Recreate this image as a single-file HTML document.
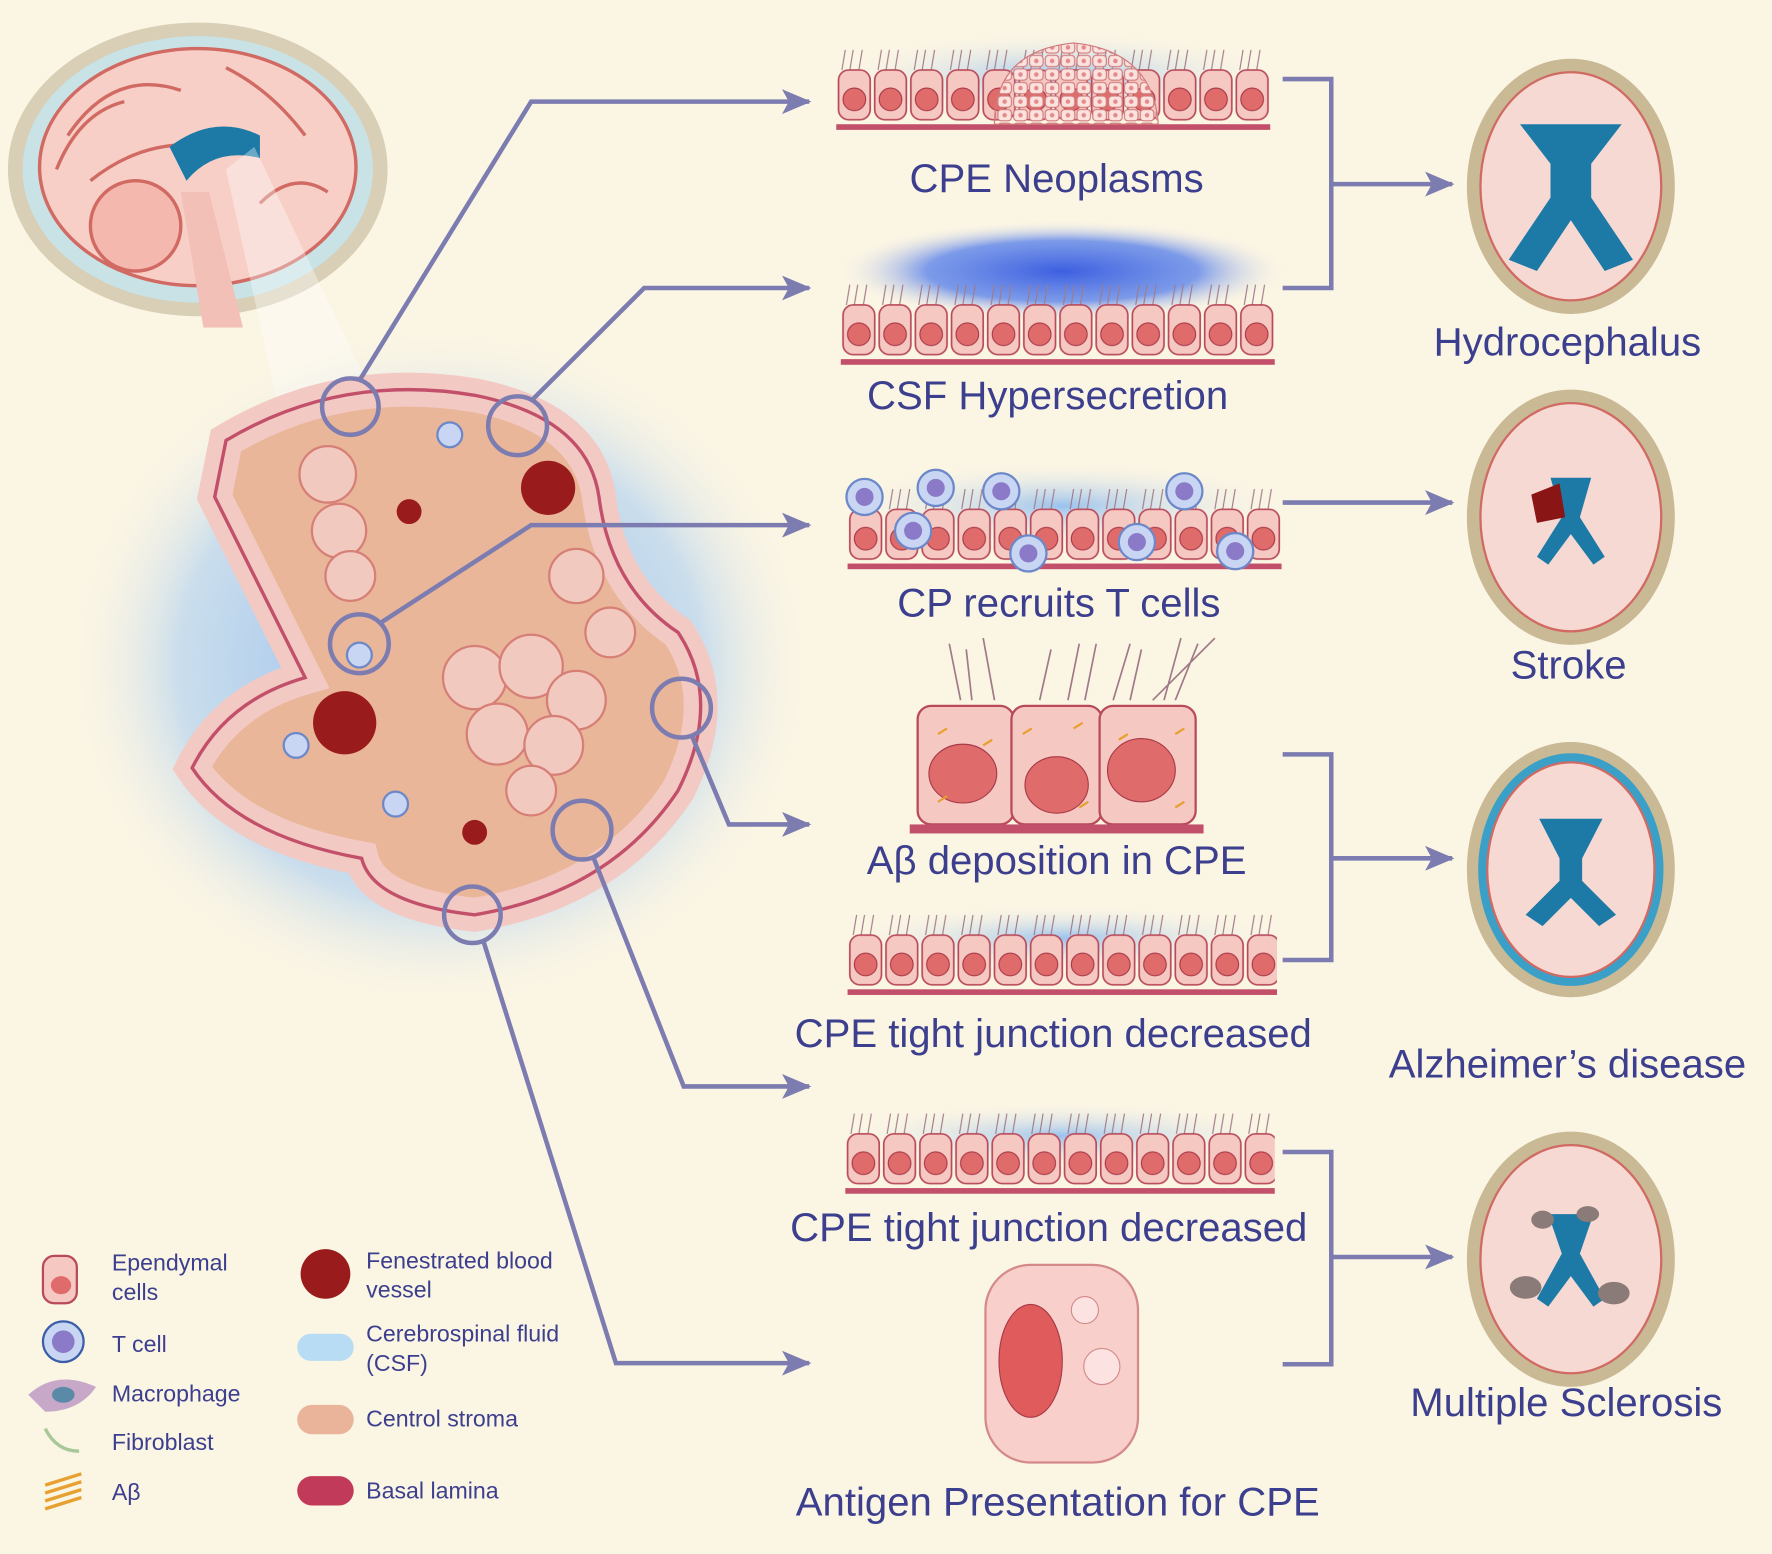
<!DOCTYPE html>
<html><head><meta charset="utf-8"><style>
html,body{margin:0;padding:0;background:#fbf5e4}
svg{display:block}
text{font-family:"Liberation Sans",sans-serif;fill:#3c3f8e}
</style></head><body>
<svg width="1772" height="1554" viewBox="0 0 1568 1376" preserveAspectRatio="none" xmlns="http://www.w3.org/2000/svg">
<defs>
<radialGradient id="glow" cx="50%" cy="50%" r="50%">
<stop offset="0" stop-color="#7fb0ee" stop-opacity="0.9"/>
<stop offset="0.7" stop-color="#a8cdf2" stop-opacity="0.6"/>
<stop offset="1" stop-color="#fbf5e4" stop-opacity="0"/>
</radialGradient>
<radialGradient id="topglow" cx="50%" cy="60%" r="50%">
<stop offset="0" stop-color="#8fbcef" stop-opacity="0.9"/>
<stop offset="1" stop-color="#fbf5e4" stop-opacity="0"/>
</radialGradient>
<radialGradient id="deepglow" cx="50%" cy="50%" r="50%">
<stop offset="0" stop-color="#3d5fe0"/>
<stop offset="0.6" stop-color="#5d84ea" stop-opacity="0.8"/>
<stop offset="1" stop-color="#fbf5e4" stop-opacity="0"/>
</radialGradient>
<pattern id="cells" x="0" y="0" width="32" height="70" patternUnits="userSpaceOnUse">
<line x1="8" y1="0" x2="5" y2="18" stroke="#a07a88" stroke-width="1"/>
<line x1="15" y1="0" x2="12" y2="18" stroke="#a07a88" stroke-width="1"/>
<line x1="23" y1="0" x2="20" y2="18" stroke="#a07a88" stroke-width="1"/>
<rect x="2" y="18" width="28" height="44" rx="9" fill="#f6c8c2" stroke="#b84a5a" stroke-width="1.5"/>
<ellipse cx="16" cy="44" rx="10" ry="10" fill="#e06b6b" stroke="#a83a48"/>
</pattern>
<pattern id="small" x="0" y="0" width="14" height="12" patternUnits="userSpaceOnUse">
<rect x="1" y="1" width="12" height="10" rx="3" fill="#fbe2de" stroke="#d07a7a" stroke-width="1"/>
<circle cx="7" cy="6" r="2" fill="#e58a8a"/>
</pattern>
<marker id="ar" markerWidth="26" markerHeight="22" refX="24" refY="11" orient="auto" markerUnits="userSpaceOnUse">
<path d="M0,0 L26,11 L0,22 L6,11 Z" fill="#7c7cb0"/>
</marker>
</defs>
<rect width="1568" height="1376" fill="#fbf5e4"/>

<!-- Brain top-left -->
<ellipse cx="175" cy="150" rx="168" ry="130" fill="#d8cfb6"/>
<ellipse cx="175" cy="150" rx="155" ry="118" fill="#c8e2e6"/>
<ellipse cx="175" cy="148" rx="140" ry="105" fill="#f7cfc7" stroke="#d06a62" stroke-width="3"/>
<path d="M60,120 Q100,60 160,80 M80,160 Q130,120 190,130 M200,60 Q240,80 270,120 M90,200 Q120,180 150,200 M50,150 Q70,100 110,90 M230,180 Q260,150 290,170" stroke="#d06a62" stroke-width="3" fill="none"/>
<circle cx="120" cy="200" r="40" fill="#f4b8ae" stroke="#d06a62" stroke-width="3"/>
<path d="M150,130 Q190,100 230,120 L230,140 Q190,130 165,160 Z" fill="#1d7aa6"/>
<path d="M160,170 L185,170 L215,290 L180,290 Z" fill="#f2c0b6"/>
<polygon points="200,150 225,130 430,560 290,560" fill="#ffffff" opacity="0.35"/>

<!-- CP blob -->
<ellipse cx="390" cy="590" rx="330" ry="300" fill="url(#glow)"/>
<path d="M200,390 Q300,330 420,350 Q520,370 530,440 Q540,520 600,560 Q640,620 600,700 Q540,790 420,810 Q330,800 320,760 Q210,740 170,680 Q200,620 270,600 Q240,540 190,440 Z" fill="#e9b69a" stroke="#f3c9c3" stroke-width="30"/>
<path d="M200,390 Q300,330 420,350 Q520,370 530,440 Q540,520 600,560 Q640,620 600,700 Q540,790 420,810 Q330,800 320,760 Q210,740 170,680 Q200,620 270,600 Q240,540 190,440 Z" fill="none" stroke="#c2506a" stroke-width="3"/>
<g fill="#f2c9bf" stroke="#d67f76" stroke-width="2">
<circle cx="290" cy="420" r="25"/><circle cx="300" cy="470" r="24"/><circle cx="310" cy="510" r="22"/>
<circle cx="420" cy="600" r="28"/><circle cx="470" cy="590" r="28"/><circle cx="510" cy="620" r="26"/>
<circle cx="440" cy="650" r="27"/><circle cx="490" cy="660" r="26"/><circle cx="510" cy="510" r="24"/>
<circle cx="470" cy="700" r="22"/><circle cx="540" cy="560" r="22"/>
</g>
<g fill="#9a1b1b"><circle cx="485" cy="432" r="24"/><circle cx="305" cy="640" r="28"/><circle cx="362" cy="453" r="11"/><circle cx="420" cy="737" r="11"/></g>
<g fill="#c8d6f4" stroke="#6d88c8" stroke-width="2"><circle cx="398" cy="385" r="11"/><circle cx="318" cy="580" r="11"/><circle cx="262" cy="660" r="11"/><circle cx="350" cy="712" r="11"/></g>

<!-- circles & connectors -->
<g fill="none" stroke="#7c7cb0" stroke-width="4">
<circle cx="310" cy="360" r="25"/><circle cx="458" cy="377" r="26"/><circle cx="318" cy="570" r="26"/>
<circle cx="603" cy="627" r="26"/><circle cx="515" cy="735" r="26"/><circle cx="418" cy="810" r="25"/>
<polyline points="318,337 470,90 716,90" marker-end="url(#ar)"/>
<polyline points="470,355 570,255 716,255" marker-end="url(#ar)"/>
<polyline points="336,552 470,465 716,465" marker-end="url(#ar)"/>
<polyline points="612,651 645,730 716,730" marker-end="url(#ar)"/>
<polyline points="525,759 605,962 716,962" marker-end="url(#ar)"/>
<polyline points="428,834 545,1207 716,1207" marker-end="url(#ar)"/>
<polyline points="1135,70 1178,70 1178,255 1135,255"/>
<polyline points="1178,163 1285,163" marker-end="url(#ar)"/>
<polyline points="1135,445 1285,445" marker-end="url(#ar)"/>
<polyline points="1135,668 1178,668 1178,850 1135,850"/>
<polyline points="1178,760 1285,760" marker-end="url(#ar)"/>
<polyline points="1135,1020 1178,1020 1178,1208 1135,1208"/>
<polyline points="1178,1113 1285,1113" marker-end="url(#ar)"/>
</g>

<!-- strips -->
<ellipse cx="935" cy="60" rx="200" ry="40" fill="url(#topglow)"/>
<g transform="translate(740,44)"><rect width="384" height="68" fill="url(#cells)"/><rect y="66" width="384" height="5" fill="#c2506a"/></g>
<path d="M880,110 Q880,45 950,38 Q1020,45 1025,110 Z" fill="url(#small)" stroke="#d07a7a"/>

<ellipse cx="940" cy="240" rx="200" ry="45" fill="url(#deepglow)"/>
<g transform="translate(744,252)"><rect width="384" height="68" fill="url(#cells)"/><rect y="66" width="384" height="5" fill="#c2506a"/></g>

<ellipse cx="940" cy="440" rx="200" ry="40" fill="url(#topglow)"/>
<g transform="translate(750,433)"><rect width="384" height="68" fill="url(#cells)"/><rect y="66" width="384" height="5" fill="#c2506a"/></g>
<g fill="#c8d6f4" stroke="#6d88c8" stroke-width="2">
<circle cx="765" cy="440" r="16"/><circle cx="828" cy="432" r="16"/><circle cx="886" cy="435" r="16"/><circle cx="1048" cy="435" r="16"/>
<circle cx="808" cy="470" r="16"/><circle cx="910" cy="490" r="16"/><circle cx="1006" cy="480" r="16"/><circle cx="1093" cy="488" r="16"/></g>
<g fill="#8a7ac8"><circle cx="765" cy="440" r="8"/><circle cx="828" cy="432" r="8"/><circle cx="886" cy="435" r="8"/><circle cx="1048" cy="435" r="8"/>
<circle cx="808" cy="470" r="8"/><circle cx="910" cy="490" r="8"/><circle cx="1006" cy="480" r="8"/><circle cx="1093" cy="488" r="8"/></g>

<g stroke="#a07a88" stroke-width="1.5" fill="none"><path d="M850,620 L840,570 M880,620 L870,565 M920,620 L930,575 M960,620 L970,570 M1000,620 L1010,575 M1040,620 L1060,570 M1020,620 L1075,565 M860,620 L855,575 M945,620 L955,570 M985,620 L1000,570 M1030,620 L1045,565"/></g>
<g fill="#f6c8c2" stroke="#b84a5a" stroke-width="2">
<rect x="812" y="625" width="85" height="105" rx="12"/><rect x="895" y="625" width="80" height="105" rx="12"/><rect x="973" y="625" width="85" height="105" rx="12"/></g>
<g fill="#e06b6b" stroke="#a83a48"><ellipse cx="852" cy="685" rx="30" ry="26"/><ellipse cx="935" cy="695" rx="28" ry="25"/><ellipse cx="1010" cy="682" rx="30" ry="28"/></g>
<g stroke="#e8a030" stroke-width="2"><path d="M830,650 l8,-5 M870,660 l8,-5 M905,650 l8,-5 M950,645 l8,-5 M990,655 l8,-5 M1040,650 l8,-5 M830,710 l8,-5 M955,715 l8,-5 M1040,715 l8,-5"/></g>
<rect x="805" y="730" width="260" height="8" fill="#c2506a"/>

<ellipse cx="940" cy="825" rx="195" ry="30" fill="url(#topglow)"/>
<g transform="translate(750,810)"><rect width="380" height="68" fill="url(#cells)"/><rect y="66" width="380" height="5" fill="#c2506a"/></g>

<ellipse cx="940" cy="1000" rx="195" ry="30" fill="url(#topglow)"/>
<g transform="translate(748,986)"><rect width="380" height="68" fill="url(#cells)"/><rect y="66" width="380" height="5" fill="#c2506a"/></g>

<rect x="872" y="1120" width="135" height="175" rx="40" fill="#f8cfcb" stroke="#d48a88" stroke-width="2"/>
<ellipse cx="912" cy="1205" rx="28" ry="50" fill="#e05b5b" stroke="#a83a48"/>
<circle cx="975" cy="1210" r="16" fill="#fde2e2" stroke="#d48a88"/>
<circle cx="960" cy="1160" r="12" fill="#fde2e2" stroke="#d48a88"/>

<!-- right brains -->
<g>
<g transform="translate(1390,165)"><ellipse rx="92" ry="113" fill="#c9b995"/><ellipse rx="80" ry="101" fill="#f7d9d4" stroke="#d06a62" stroke-width="2"/><path d="M-45,-55 L45,-55 L18,-20 L18,10 L55,65 L30,75 L0,30 L-30,75 L-55,65 L-18,10 L-18,-20 Z" fill="#1d7aa6"/></g>
<g transform="translate(1390,458)"><ellipse rx="92" ry="113" fill="#c9b995"/><ellipse rx="80" ry="101" fill="#f7d9d4" stroke="#d06a62" stroke-width="2"/><path d="M-18,-35 L18,-35 L8,0 L30,35 L20,42 L0,15 L-20,42 L-30,35 L-8,0 Z" fill="#1d7aa6"/><path d="M-35,-20 L-10,-30 L-5,0 L-30,5 Z" fill="#8a1515"/></g>
<g transform="translate(1390,770)"><ellipse rx="92" ry="113" fill="#c9b995"/><ellipse rx="82" ry="103" fill="#3aa0c8"/><ellipse rx="74" ry="95" fill="#f7d9d4" stroke="#d06a62" stroke-width="2"/><path d="M-28,-45 L28,-45 L10,-10 L10,10 L40,40 L25,50 L0,25 L-25,50 L-40,40 L-10,10 L-10,-10 Z" fill="#1d7aa6"/></g>
<g transform="translate(1390,1115)"><ellipse rx="92" ry="113" fill="#c9b995"/><ellipse rx="80" ry="101" fill="#f7d9d4" stroke="#d06a62" stroke-width="2"/><path d="M-20,-40 L20,-40 L8,-5 L30,35 L20,42 L0,15 L-20,42 L-30,35 L-8,-5 Z" fill="#1d7aa6"/><ellipse cx="-40" cy="25" rx="14" ry="10" fill="#8a7b78"/><ellipse cx="38" cy="30" rx="14" ry="10" fill="#8a7b78"/><ellipse cx="-25" cy="-35" rx="10" ry="8" fill="#8a7b78"/><ellipse cx="15" cy="-40" rx="10" ry="7" fill="#8a7b78"/></g>
</g>

<!-- labels -->
<g font-size="35.5" text-anchor="middle">
<text x="935" y="170">CPE Neoplasms</text>
<text x="927" y="362">CSF Hypersecretion</text>
<text x="937" y="546">CP recruits T cells</text>
<text x="935" y="774">Aβ deposition in CPE</text>
<text x="932" y="927">CPE tight junction decreased</text>
<text x="928" y="1099">CPE tight junction decreased</text>
<text x="936" y="1342">Antigen Presentation for CPE</text>
<text x="1387" y="315">Hydrocephalus</text>
<text x="1388" y="601">Stroke</text>
<text x="1387" y="954">Alzheimer’s disease</text>
<text x="1386" y="1254">Multiple Sclerosis</text>
</g>

<!-- legend -->
<g font-size="20.5">
<text x="99" y="1125">Ependymal</text><text x="99" y="1151">cells</text>
<text x="99" y="1197">T cell</text>
<text x="99" y="1241">Macrophage</text>
<text x="99" y="1284">Fibroblast</text>
<text x="99" y="1328">Aβ</text>
<text x="324" y="1123">Fenestrated blood</text><text x="324" y="1149">vessel</text>
<text x="324" y="1188">Cerebrospinal fluid</text><text x="324" y="1214">(CSF)</text>
<text x="324" y="1263">Centrol stroma</text>
<text x="324" y="1327">Basal lamina</text>
</g>
<rect x="38" y="1112" width="30" height="42" rx="10" fill="#f6c8c2" stroke="#b84a5a" stroke-width="2"/>
<ellipse cx="54" cy="1138" rx="9" ry="8" fill="#e06b6b"/>
<circle cx="56" cy="1188" r="18" fill="#c8d6f4" stroke="#3b5ea8" stroke-width="2"/><circle cx="56" cy="1188" r="10" fill="#8a7ac8"/>
<path d="M25,1235 Q50,1212 85,1228 Q70,1250 40,1250 Z" fill="#c7a8c8"/><ellipse cx="56" cy="1235" rx="10" ry="7" fill="#5a8aa8"/>
<path d="M40,1265 Q50,1285 70,1285" stroke="#a8c898" stroke-width="3" fill="none"/>
<path d="M40,1315 L72,1305 M40,1322 L72,1312 M40,1329 L72,1319 M40,1336 L72,1326" stroke="#e8a030" stroke-width="3"/>
<circle cx="288" cy="1128" r="22" fill="#9a1b1b"/>
<rect x="263" y="1181" width="50" height="24" rx="12" fill="#b8dcf4"/>
<rect x="263" y="1244" width="50" height="26" rx="13" fill="#eab49a"/>
<rect x="263" y="1307" width="50" height="26" rx="13" fill="#c23a5a"/>
</svg>
</body></html>
